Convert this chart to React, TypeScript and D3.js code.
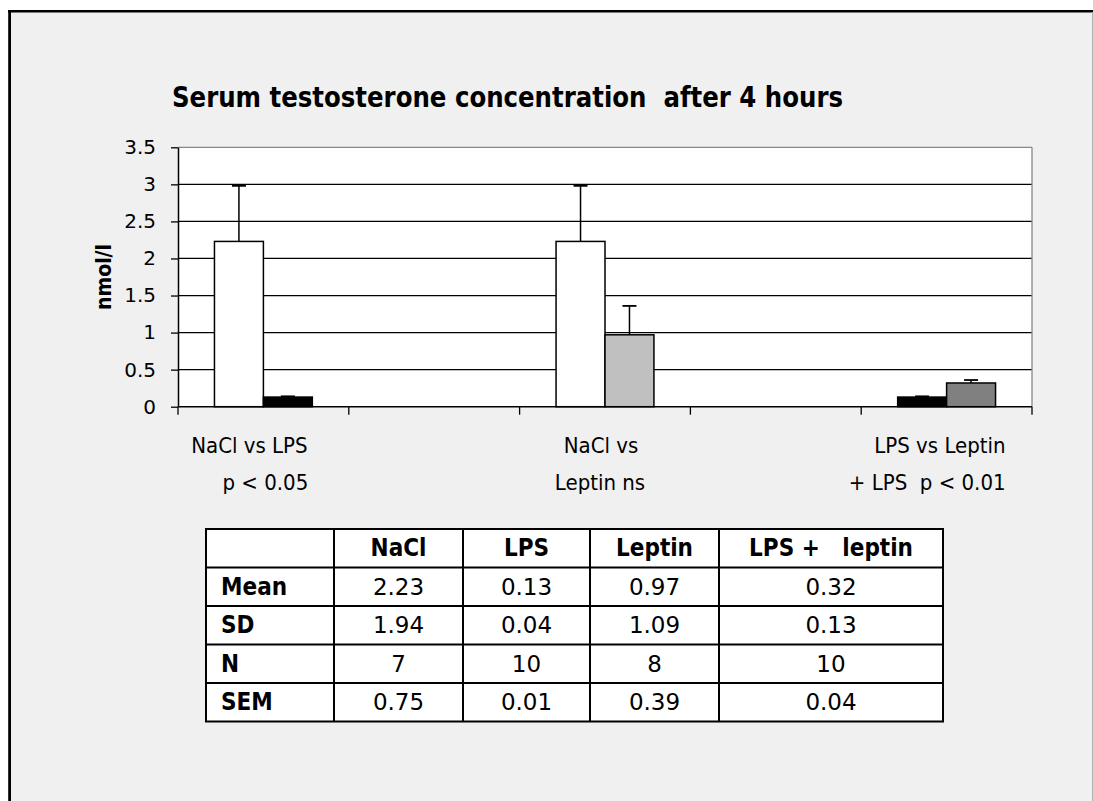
import React, { useEffect, useRef } from 'react';
import * as d3 from 'd3';

// treatment groups (table columns)
const treatments = ['NaCl', 'LPS', 'Leptin', 'LPS + leptin'];
const tableHeaders = ['NaCl', 'LPS', 'Leptin', 'LPS +   leptin'];
const meanValues = [2.23, 0.13, 0.97, 0.32];
const sdValues = [1.94, 0.04, 1.09, 0.13];
const nValues = [7, 10, 8, 10];
const semValues = [0.75, 0.01, 0.39, 0.04];

// x categories: 5 slots, the even ones are empty spacers
const categories = ['cmp1', 'gap1', 'cmp2', 'gap2', 'cmp3'];
const categoryLabels = [
  ['NaCl vs LPS', 'p < 0.05'],
  [],
  ['NaCl vs', 'Leptin ns'],
  [],
  ['LPS vs Leptin', '+ LPS  p < 0.01'],
];
const comparisonPairs = [[0, 1], [], [0, 2], [], [1, 3]];
const yTicks = [0, 0.5, 1, 1.5, 2, 2.5, 3, 3.5];

const barFill: Record<string, string> = {
  'NaCl': '#ffffff',
  'LPS': '#000000',
  'Leptin': '#c0c0c0',
  'LPS + leptin': '#808080',
};

// how the wrapped category labels sit under their slot
const labelLayout = [
  { anchor: 'middle', dx: [-14, 2] },
  null,
  { anchor: 'middle', dx: [-4, -5] },
  null,
  { anchor: 'end', dx: [59, 59] },
];

const COND = '"DejaVu Sans Condensed", "DejaVu Sans", sans-serif';
const SANS = '"DejaVu Sans", Verdana, sans-serif';

export default function App() {
  const ref = useRef<SVGSVGElement>(null);

  useEffect(() => {
    if (!ref.current) return;
    const svg = d3.select(ref.current);
    svg.selectAll('*').remove();

    const W = 1093, H = 801;

    // page frame
    svg.append('rect').attr('x', 0).attr('y', 0).attr('width', W).attr('height', H).attr('fill', '#ffffff');
    svg.append('rect').attr('x', 9.5).attr('y', 11.5).attr('width', W - 9.5).attr('height', H).attr('fill', '#f0f0f0');
    svg.append('line').attr('x1', 8).attr('x2', W).attr('y1', 11.3).attr('y2', 11.3)
      .attr('stroke', '#000').attr('stroke-width', 2.6);
    svg.append('line').attr('x1', 9.6).attr('x2', 9.6).attr('y1', 10).attr('y2', H)
      .attr('stroke', '#000').attr('stroke-width', 2.8);
    svg.append('line').attr('x1', 1092.5).attr('x2', 1092.5).attr('y1', 12).attr('y2', H)
      .attr('stroke', '#b0b0b0').attr('stroke-width', 1);

    // title (squeezed to mimic the narrow face of the original)
    svg.append('text')
      .attr('x', 172).attr('y', 107)
      .attr('textLength', 671).attr('lengthAdjust', 'spacingAndGlyphs')
      .style('font-family', COND).style('font-stretch', 'condensed')
      .style('font-size', '29px').style('font-weight', 'bold')
      .style('white-space', 'pre')
      .text('Serum testosterone concentration  after 4 hours');

    const left = 178, right = 1032, top = 147.3, bottom = 406.7;

    const y = d3.scaleLinear().domain([0, 3.5]).range([bottom, top]);
    const x0 = d3.scaleBand().domain(categories).range([left, right]).padding(0);
    const x1 = d3.scaleBand().domain(['a', 'b']).range([0, x0.bandwidth()])
      .paddingInner(0).paddingOuter(0.745);

    // plot area
    svg.append('rect').attr('x', left).attr('y', top)
      .attr('width', right - left).attr('height', bottom - top).attr('fill', '#fff');

    const g = svg.append('g');
    g.selectAll('line.grid')
      .data(yTicks.filter(t => t > 0 && t < 3.5))
      .enter().append('line')
      .attr('x1', left).attr('x2', right)
      .attr('y1', d => y(d)).attr('y2', d => y(d))
      .attr('stroke', '#000').attr('stroke-width', 1.3);
    g.append('line').attr('x1', left).attr('x2', right).attr('y1', y(3.5)).attr('y2', y(3.5))
      .attr('stroke', '#888').attr('stroke-width', 1.3);
    g.append('line').attr('x1', right).attr('x2', right).attr('y1', top).attr('y2', bottom)
      .attr('stroke', '#888').attr('stroke-width', 1.3);

    // bars
    const bars: { cat: string, slot: string, idx: number }[] = [];
    comparisonPairs.forEach((pair, ci) => {
      pair.forEach((ti, si) => bars.push({ cat: categories[ci], slot: si === 0 ? 'a' : 'b', idx: ti }));
    });

    g.selectAll('rect.bar')
      .data(bars)
      .enter().append('rect')
      .attr('x', d => x0(d.cat)! + x1(d.slot)!)
      .attr('y', d => y(meanValues[d.idx]))
      .attr('width', x1.bandwidth())
      .attr('height', d => bottom - y(meanValues[d.idx]))
      .attr('fill', d => barFill[treatments[d.idx]])
      .attr('stroke', '#000').attr('stroke-width', 1.5);

    // error bars (mean + SEM, upper only)
    const capW = 14;
    const eb = g.selectAll('g.err').data(bars).enter().append('g');
    eb.append('line')
      .attr('x1', d => x0(d.cat)! + x1(d.slot)! + x1.bandwidth() / 2)
      .attr('x2', d => x0(d.cat)! + x1(d.slot)! + x1.bandwidth() / 2)
      .attr('y1', d => y(meanValues[d.idx]))
      .attr('y2', d => y(meanValues[d.idx] + semValues[d.idx]))
      .attr('stroke', '#000').attr('stroke-width', 1.5);
    eb.append('line')
      .attr('x1', d => x0(d.cat)! + x1(d.slot)! + x1.bandwidth() / 2 - capW / 2)
      .attr('x2', d => x0(d.cat)! + x1(d.slot)! + x1.bandwidth() / 2 + capW / 2)
      .attr('y1', d => y(meanValues[d.idx] + semValues[d.idx]))
      .attr('y2', d => y(meanValues[d.idx] + semValues[d.idx]))
      .attr('stroke', '#000').attr('stroke-width', 1.8);

    // y axis
    const yAxis = svg.append('g')
      .attr('transform', `translate(${left},0)`)
      .call(d3.axisLeft(y).tickValues(yTicks).tickSize(7).tickSizeOuter(0).tickPadding(15)
        .tickFormat(d => String(d)));
    yAxis.select('.domain').attr('stroke', '#000').attr('stroke-width', 1.5);
    yAxis.selectAll('.tick line').attr('stroke', '#000').attr('stroke-width', 1.3);
    yAxis.selectAll('.tick text')
      .style('font-family', SANS).style('font-size', '20px').style('fill', '#000');

    svg.append('text')
      .attr('transform', `translate(111,${(top + bottom) / 2}) rotate(-90)`)
      .attr('text-anchor', 'middle')
      .style('font-family', COND).style('font-stretch', 'condensed')
      .style('font-size', '21px').style('font-weight', 'bold')
      .text('nmol/l');

    // x axis with boundary ticks
    const bounds = categories.map(c => x0(c)!).concat([right]);
    svg.append('line').attr('x1', left).attr('x2', right).attr('y1', bottom).attr('y2', bottom)
      .attr('stroke', '#000').attr('stroke-width', 1.5);
    svg.selectAll('line.xt').data(bounds).enter().append('line')
      .attr('x1', d => d).attr('x2', d => d).attr('y1', bottom).attr('y2', bottom + 8)
      .attr('stroke', '#000').attr('stroke-width', 1.3);

    // category labels
    categoryLabels.forEach((lines, ci) => {
      const lay = labelLayout[ci];
      if (!lay) return;
      const cx = x0(categories[ci])! + x0.bandwidth() / 2;
      lines.forEach((ln, li) => {
        svg.append('text')
          .attr('x', cx + lay.dx[li])
          .attr('y', 453 + li * 37)
          .attr('text-anchor', lay.anchor)
          .style('font-family', COND).style('font-stretch', 'condensed')
          .style('font-size', '22px').style('white-space', 'pre')
          .text(ln);
      });
    });

    // stats table
    const colX = [206, 334, 463, 590, 719, 943];
    const rowY = [529, 567.5, 606, 644.5, 683, 721.5];
    const rowNames = ['Mean', 'SD', 'N', 'SEM'];
    const rows = [meanValues.map(v => v.toFixed(2)), sdValues.map(v => v.toFixed(2)),
      nValues.map(v => String(v)), semValues.map(v => v.toFixed(2))];

    const t = svg.append('g');
    t.append('rect').attr('x', colX[0]).attr('y', rowY[0])
      .attr('width', colX[5] - colX[0]).attr('height', rowY[5] - rowY[0]).attr('fill', '#fff');
    rowY.forEach(yy => t.append('line').attr('x1', colX[0] - 1).attr('x2', colX[5] + 1)
      .attr('y1', yy).attr('y2', yy).attr('stroke', '#000').attr('stroke-width', 2));
    colX.forEach(xx => t.append('line').attr('x1', xx).attr('x2', xx)
      .attr('y1', rowY[0]).attr('y2', rowY[5]).attr('stroke', '#000').attr('stroke-width', 2));

    const midY = (r: number) => (rowY[r] + rowY[r + 1]) / 2 + 8;
    const midX = (c: number) => (colX[c] + colX[c + 1]) / 2;

    tableHeaders.forEach((h, i) => {
      t.append('text').attr('x', midX(i + 1)).attr('y', midY(0)).attr('text-anchor', 'middle')
        .style('font-family', COND).style('font-stretch', 'condensed')
        .style('font-size', '24px').style('font-weight', 'bold').style('white-space', 'pre')
        .text(h);
    });
    rowNames.forEach((rn, r) => {
      t.append('text').attr('x', colX[0] + 15).attr('y', midY(r + 1))
        .style('font-family', COND).style('font-stretch', 'condensed')
        .style('font-size', '24px').style('font-weight', 'bold')
        .text(rn);
      rows[r].forEach((v, c) => {
        t.append('text').attr('x', midX(c + 1)).attr('y', midY(r + 1)).attr('text-anchor', 'middle')
          .style('font-family', SANS).style('font-size', '23px')
          .text(v);
      });
    });
  }, []);

  return (
    <svg ref={ref} width={1093} height={801}
      style={{ position: 'absolute', left: 0, top: 0, display: 'block' }} />
  );
}
